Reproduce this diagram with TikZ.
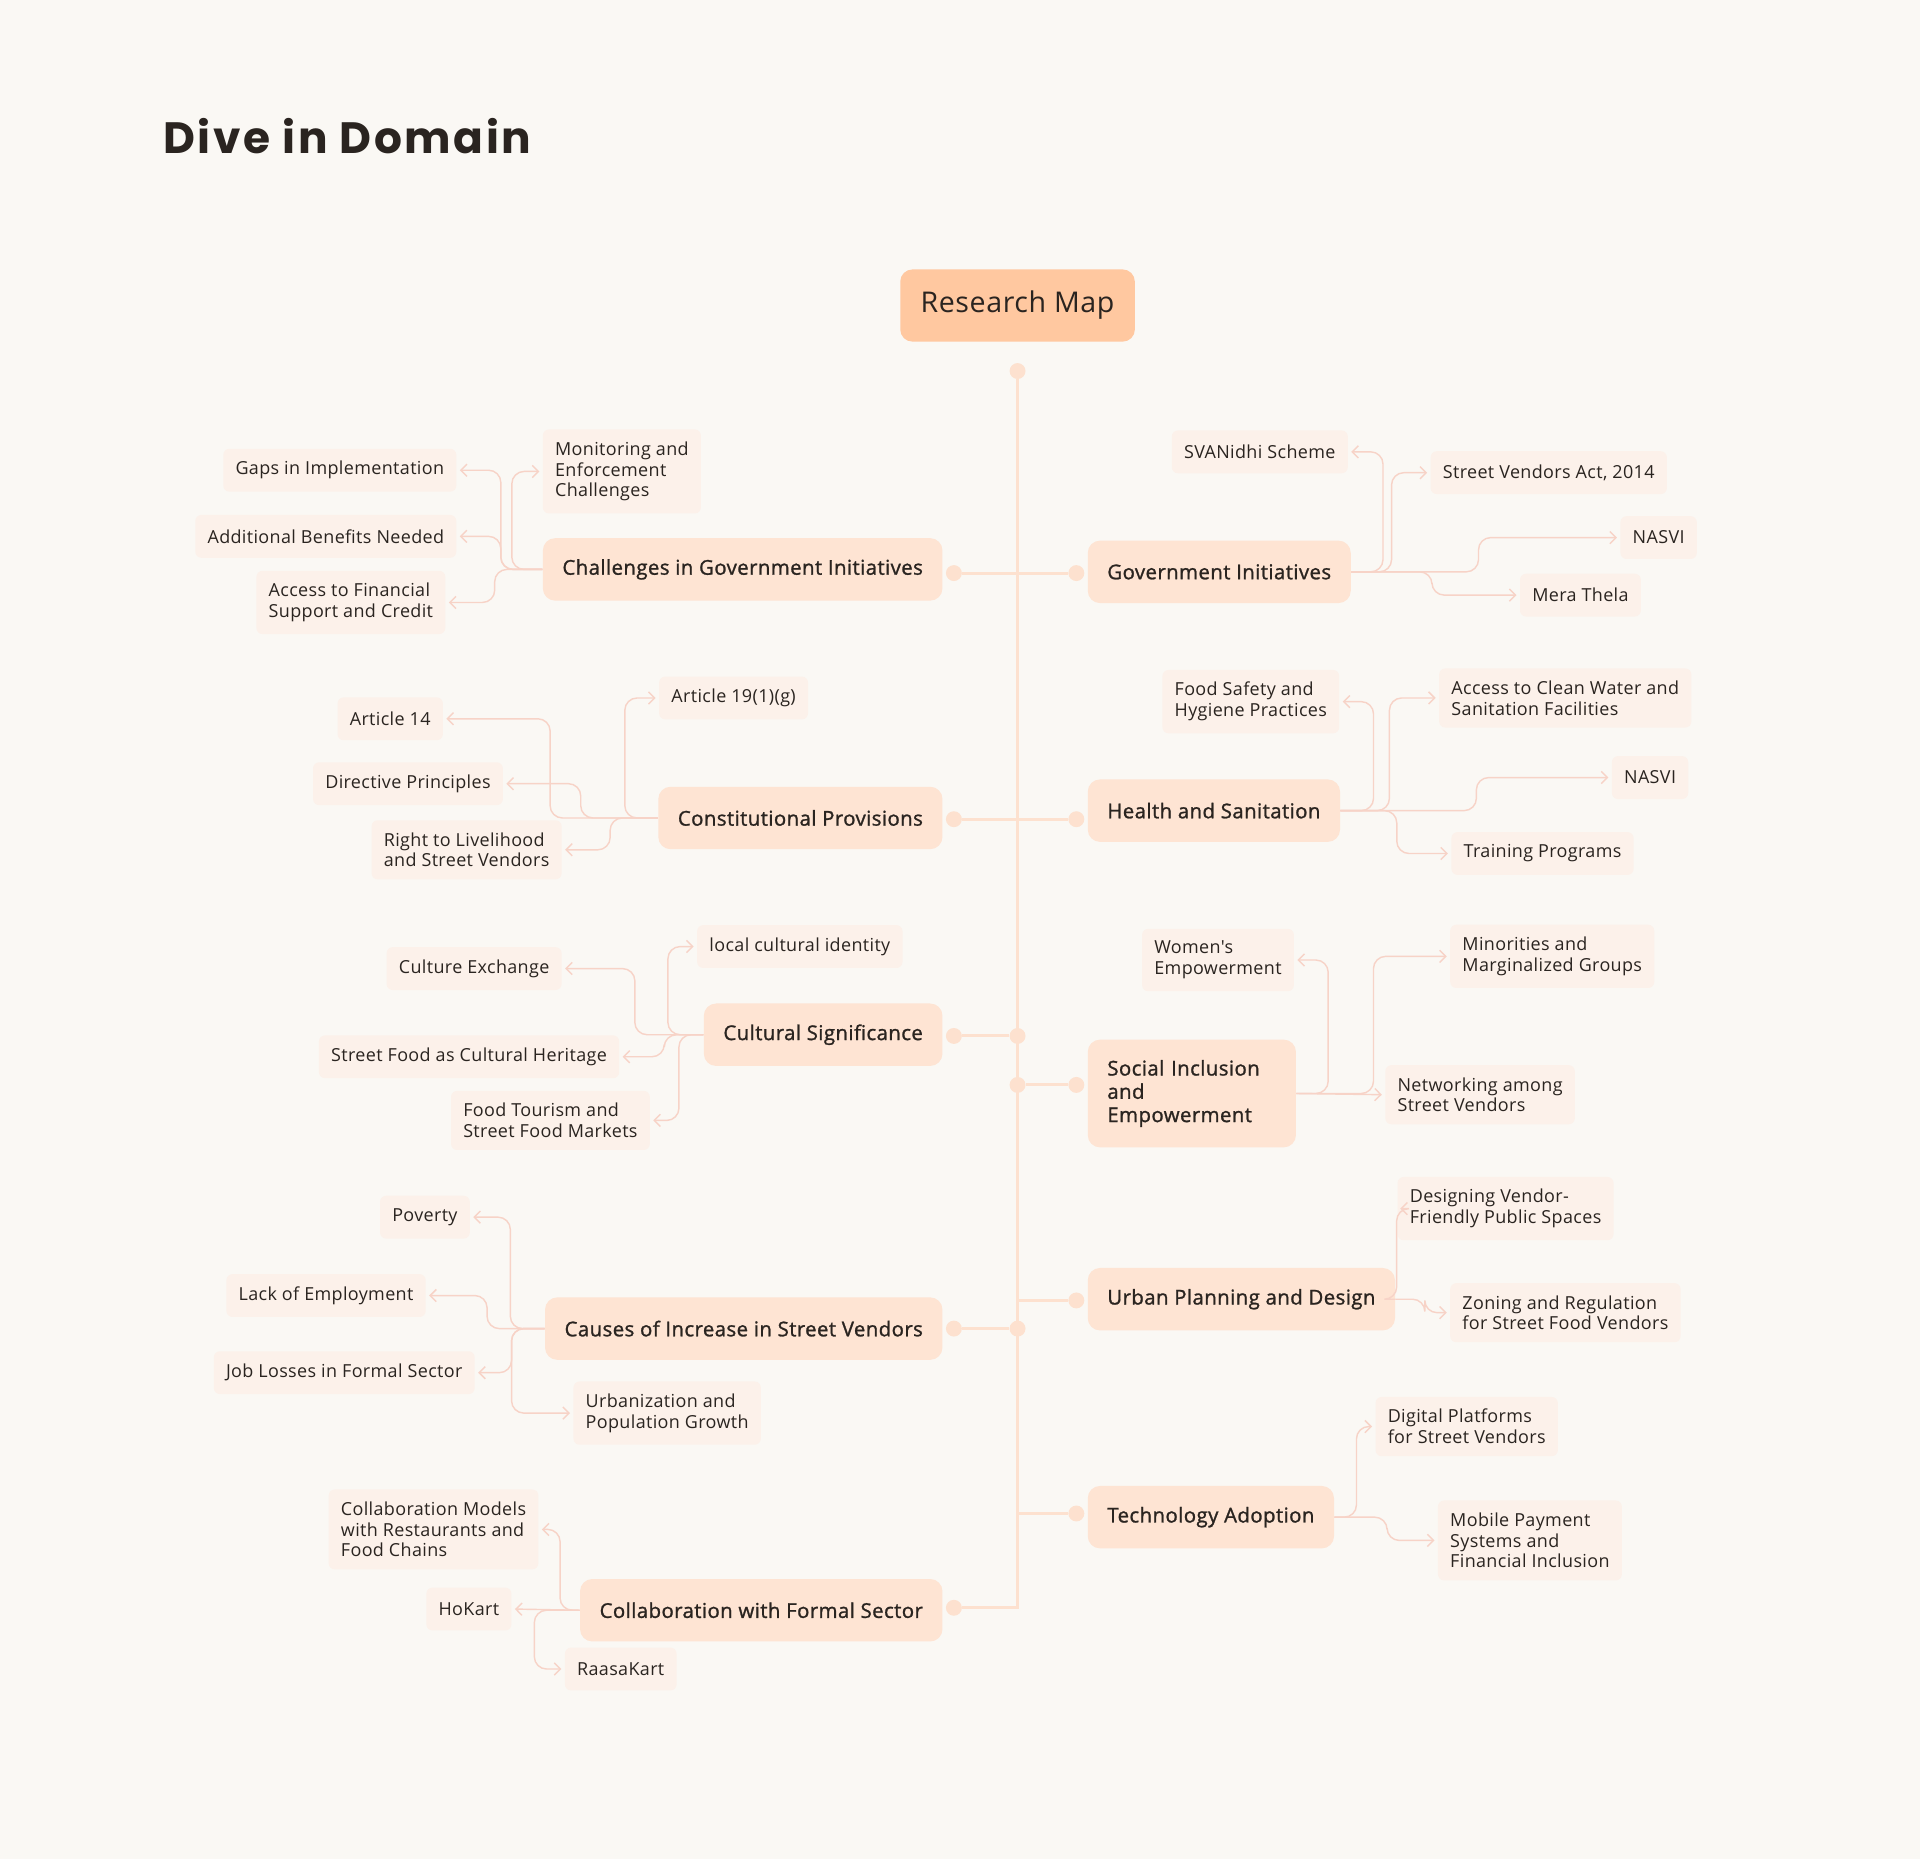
\documentclass[tikz,border=0pt]{standalone}
\usepackage{fontspec}
\setmainfont{Open Sans}[LetterSpace=2,Ligatures=TeXOff]
\newfontfamily\titlefont{Poppins}[LetterSpace=6]
\newfontfamily\midfont{Open Sans}[FakeBold=1.2,LetterSpace=2]
\usepackage{tikz}
\usetikzlibrary{arrows.meta}
\definecolor{bgc}{HTML}{FAF8F4}
\definecolor{rootc}{HTML}{FFC8A0}
\definecolor{mainc}{HTML}{FEE4D3}
\definecolor{leafc}{HTML}{FCF1EA}
\definecolor{wire}{HTML}{FDE1CF}
\definecolor{twigc}{HTML}{F7D3C7}
\definecolor{ink}{HTML}{2A2420}
\tikzset{
  rootbox/.style={fill=rootc,rounded corners=6pt,text=ink,inner xsep=10pt,
    minimum height=35.4pt,font=\fontsize{14}{17}\selectfont},
  topic/.style={fill=mainc,rounded corners=6pt,text=ink,inner xsep=9.6pt,inner ysep=10pt,
    minimum height=30.6pt,align=left,font=\midfont\fontsize{10}{11.4}\selectfont},
  leaf/.style={fill=leafc,rounded corners=3pt,text=ink,inner xsep=6pt,inner ysep=6pt,
    minimum height=21pt,align=left,font=\fontsize{8.8}{10.2}\selectfont},
  knob/.style={circle,fill=wire,inner sep=0pt,minimum size=7.8pt},
  spine/.style={draw=wire,line width=1.5pt},
  twig/.style={draw=twigc,line width=0.7pt,rounded corners=6pt,
    -{Straight Barb[length=3pt,width=6pt]},shorten >=1.5pt}
}
\begin{document}
\begin{tikzpicture}[x=0.6pt,y=-0.6pt]
\fill[bgc] (0,0) rectangle (1568,1518);
\useasboundingbox (0,0) rectangle (1568,1518);

\node[anchor=base west,inner sep=0pt,text=ink,font=\titlefont\bfseries\fontsize{21.5}{26}\selectfont]
  (title) at (133,125) {Dive in Domain};
\node[rootbox] (root) at (831,249.5) {Research Map};

% spine and branches
\node[knob] (top) at (831,303) {};
\coordinate (bend) at (831,1313);
\node[knob] (kcgi) at (779,468) {};
\node[knob] (kgin) at (879,468) {};
\node[knob] (kcpr) at (779,669) {};
\node[knob] (khsn) at (879,669) {};
\node[knob] (kcsg) at (779,846) {};
\node[knob] (jcsg) at (831,846) {};
\node[knob] (ksie) at (879,886) {};
\node[knob] (jsie) at (831,886) {};
\node[knob] (kupd) at (879,1062) {};
\coordinate (jupd) at (831,1062);
\node[knob] (kcis) at (779,1085) {};
\node[knob] (jcis) at (831,1085) {};
\node[knob] (ktad) at (879,1236) {};
\coordinate (jtad) at (831,1236);
\node[knob] (kcfs) at (779,1313) {};
\draw[spine] (top) -- (bend) -- (kcfs);
\draw[spine] (kcgi) -- (kgin);
\draw[spine] (kcpr) -- (khsn);
\draw[spine] (kcsg) -- (jcsg);
\draw[spine] (jsie) -- (ksie);
\draw[spine] (jupd) -- (kupd);
\draw[spine] (kcis) -- (jcis);
\draw[spine] (jtad) -- (ktad);

% left topics
\node[topic,anchor=east] (cgi) at (770,465) {Challenges in Government Initiatives};
\node[topic,anchor=east] (cpr) at (770,668) {Constitutional Provisions};
\node[topic,anchor=east] (csg) at (770,845) {Cultural Significance};
\node[topic,anchor=east] (cis) at (770,1085) {Causes of Increase in Street Vendors};
\node[topic,anchor=east] (cfs) at (770,1315) {Collaboration with Formal Sector};
% right topics
\node[topic,anchor=west] (gin) at (888,467) {Government Initiatives};
\node[topic,anchor=west] (hsn) at (888,662) {Health and Sanitation};
\node[topic,anchor=west,text width=82.8pt] (sie) at (888,893) {Social Inclusion\\and\\Empowerment};
\node[topic,anchor=west] (upd) at (888,1061) {Urban Planning and Design};
\node[topic,anchor=west] (tad) at (888,1239) {Technology Adoption};

% leaves
\node[leaf,anchor=west] (mon) at (443,385) {Monitoring and\\Enforcement\\Challenges};
\node[leaf,anchor=east] (gaps) at (373,384) {Gaps in Implementation};
\node[leaf,anchor=east] (addl) at (373,438) {Additional Benefits Needed};
\node[leaf,anchor=east] (fin) at (364,492) {Access to Financial\\Support and Credit};

\node[leaf,anchor=west] (art19) at (538,570) {Article 19(1)(g)};
\node[leaf,anchor=east] (art14) at (362,587) {Article 14};
\node[leaf,anchor=east] (dirp) at (411,640) {Directive Principles};
\node[leaf,anchor=east] (rlsv) at (459,694) {Right to Livelihood\\and Street Vendors};

\node[leaf,anchor=west] (lci) at (569,773) {local cultural identity};
\node[leaf,anchor=east] (cex) at (459,791) {Culture Exchange};
\node[leaf,anchor=east] (sfch) at (506,863) {Street Food as Cultural Heritage};
\node[leaf,anchor=east] (ftsm) at (531,915) {Food Tourism and\\Street Food Markets};

\node[leaf,anchor=east] (pov) at (384,994) {Poverty};
\node[leaf,anchor=east] (loe) at (348,1058) {Lack of Employment};
\node[leaf,anchor=east] (jlfs) at (388,1121) {Job Losses in Formal Sector};
\node[leaf,anchor=west] (upg) at (468,1154) {Urbanization and\\Population Growth};

\node[leaf,anchor=east] (cmrf) at (440,1249) {Collaboration Models\\with Restaurants and\\Food Chains};
\node[leaf,anchor=east] (hok) at (418,1314) {HoKart};
\node[leaf,anchor=west] (rsk) at (461,1363) {RaasaKart};

\node[leaf,anchor=east] (sva) at (1101,369) {SVANidhi Scheme};
\node[leaf,anchor=west] (sva14) at (1168,386) {Street Vendors Act, 2014};
\node[leaf,anchor=west] (nasa) at (1323,439) {NASVI};
\node[leaf,anchor=west] (mera) at (1241,486) {Mera Thela};

\node[leaf,anchor=east] (fshp) at (1094,573) {Food Safety and\\Hygiene Practices};
\node[leaf,anchor=west] (acw) at (1175,570) {Access to Clean Water and\\Sanitation Facilities};
\node[leaf,anchor=west] (nasb) at (1316,635) {NASVI};
\node[leaf,anchor=west] (trp) at (1185,697) {Training Programs};

\node[leaf,anchor=east] (wem) at (1057,784) {Women's\\Empowerment};
\node[leaf,anchor=west] (mmg) at (1184,781) {Minorities and\\Marginalized Groups};
\node[leaf,anchor=west] (nsv) at (1131,894) {Networking among\\Street Vendors};

\node[leaf,anchor=west] (dvf) at (1141,987) {Designing Vendor-\\Friendly Public Spaces};
\node[leaf,anchor=west] (zrs) at (1184,1072) {Zoning and Regulation\\for Street Food Vendors};

\node[leaf,anchor=west] (dps) at (1123,1165) {Digital Platforms\\for Street Vendors};
\node[leaf,anchor=west] (mps) at (1174,1258) {Mobile Payment\\Systems and\\Financial Inclusion};

% twigs
\draw[twig] (cgi.west) -- ++(-25,0) |- (mon.west);
\draw[twig] (cgi.west) -- ++(-34,0) |- (gaps.east);
\draw[twig] (cgi.west) -- ++(-34,0) |- (addl.east);
\draw[twig] (cgi.west) -- ++(-39,0) |- (fin.east);

\draw[twig] (cpr.west) -- ++(-27,0) |- (art19.west);
\draw[twig] (cpr.west) -- ++(-88,0) |- (art14.east);
\draw[twig] (cpr.west) -- ++(-63,0) |- (dirp.east);
\draw[twig] (cpr.west) -- ++(-39,0) |- (rlsv.east);

\draw[twig] (csg.west) -- ++(-29,0) |- (lci.west);
\draw[twig] (csg.west) -- ++(-56,0) |- (cex.east);
\draw[twig] (csg.west) -- ++(-32,0) |- (sfch.east);
\draw[twig] (csg.west) -- ++(-20,0) |- (ftsm.east);

\draw[twig] (cis.west) -- ++(-28,0) |- (pov.east);
\draw[twig] (cis.west) -- ++(-47,0) |- (loe.east);
\draw[twig] (cis.west) -- ++(-27,0) |- (jlfs.east);
\draw[twig] (cis.west) -- ++(-27,0) |- (upg.west);

\draw[twig] (cfs.west) -- ++(-16,0) |- (cmrf.east);
\draw[twig] (cfs.west) -- (hok.east);
\draw[twig] (cfs.west) -- ++(-37,0) |- (rsk.west);

\draw[twig] (gin.east) -- ++(26,0) |- (sva.east);
\draw[twig] (gin.east) -- ++(33,0) |- (sva14.west);
\draw[twig] (gin.east) -- ++(104,0) |- (nasa.west);
\draw[twig] (gin.east) -- ++(66,0) |- (mera.west);

\draw[twig] (hsn.east) -- ++(27,0) |- (fshp.east);
\draw[twig] (hsn.east) -- ++(40,0) |- (acw.west);
\draw[twig] (hsn.east) -- ++(111,0) |- (nasb.west);
\draw[twig] (hsn.east) -- ++(46,0) |- (trp.west);

\draw[twig] (sie.east) -- ++(26,0) |- (wem.east);
\draw[twig] (sie.east) -- ++(63,0) |- (mmg.west);
\draw[twig] (sie.east) -- (nsv.west);

\draw[twig] (upd.east) -- ++(1,0) |- (dvf.west);
\draw[twig] (upd.east) -- ++(24,0) |- (zrs.west);

\draw[twig] (tad.east) -- ++(18,0) |- (dps.west);
\draw[twig] (tad.east) -- ++(43,0) |- (mps.west);
\end{tikzpicture}
\end{document}
